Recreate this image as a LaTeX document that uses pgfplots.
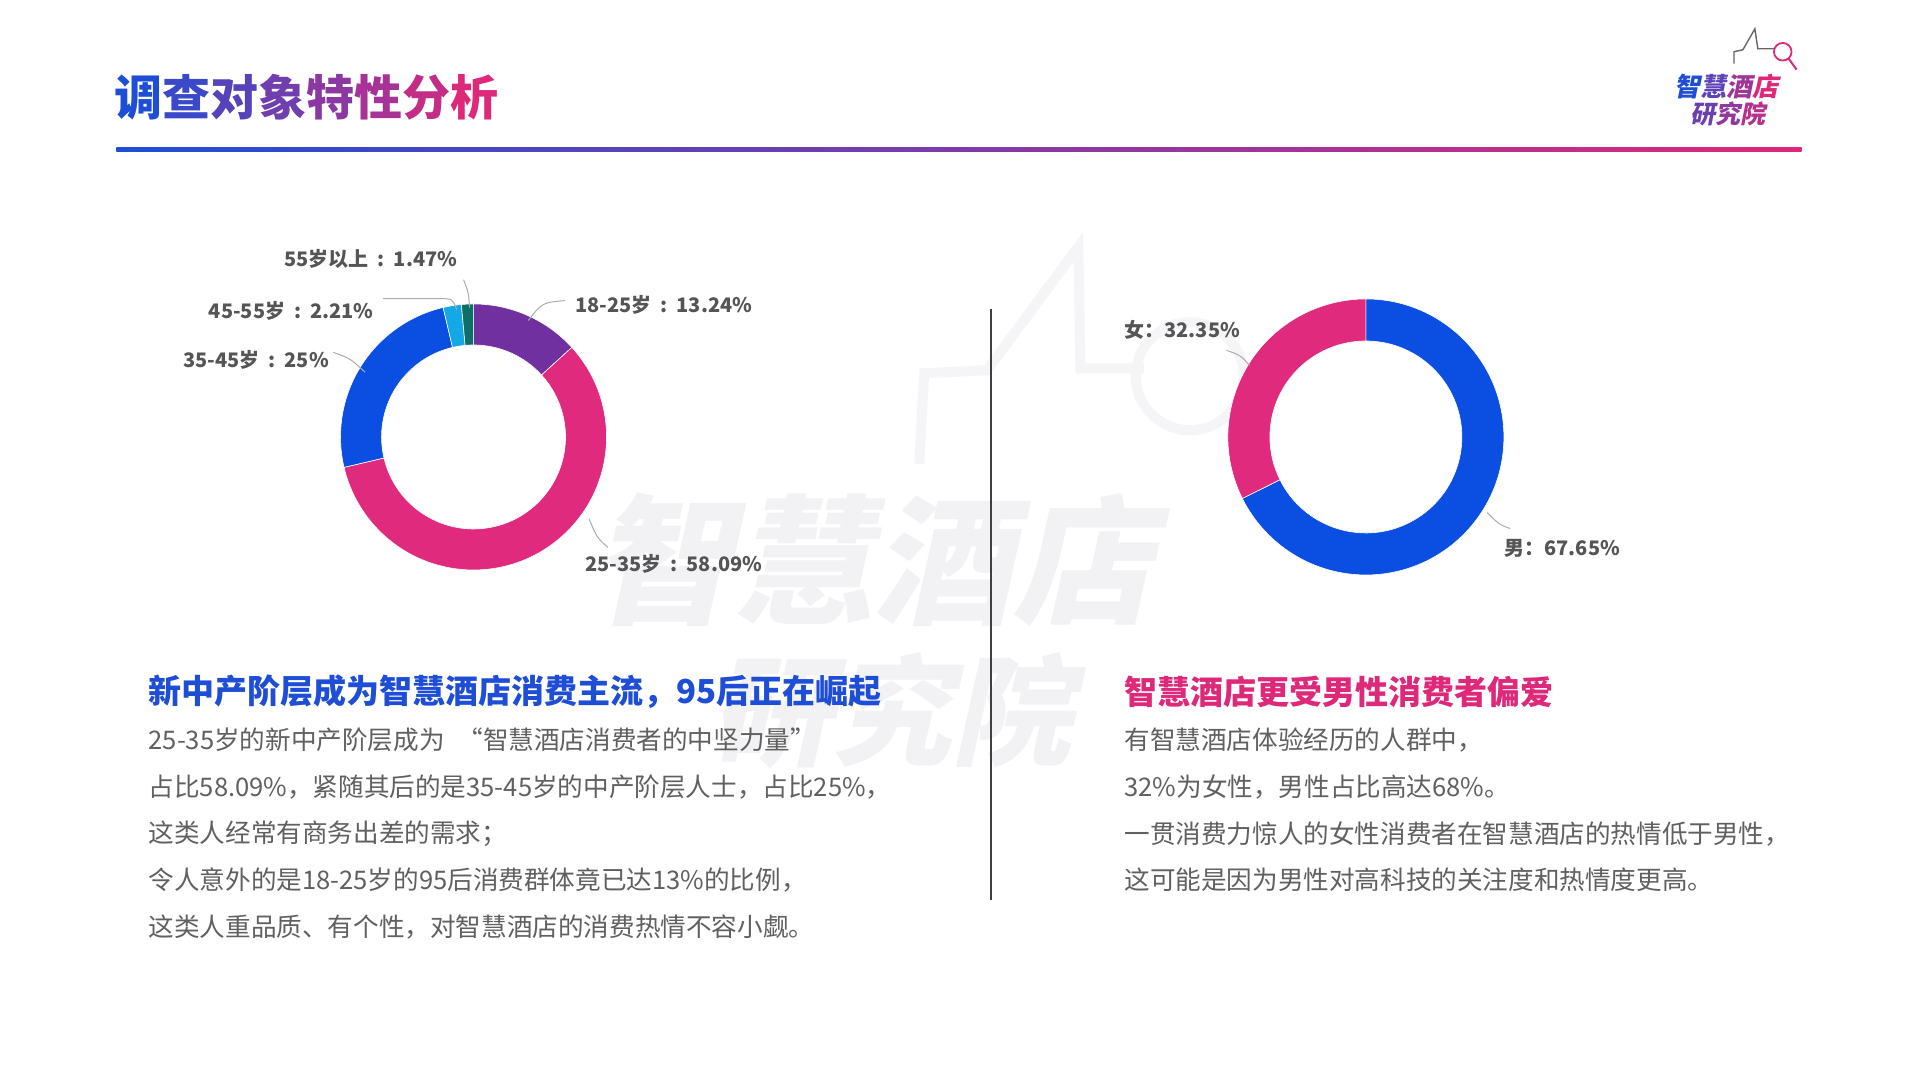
\documentclass[border=0pt]{standalone}
\usepackage{fontspec}
\setmainfont{Noto Sans CJK SC}
\usepackage{pgfplots}
\usepackage{pgfplotstable}
\pgfplotsset{compat=1.18}

\definecolor{tblue}{RGB}{30,78,214}
\definecolor{tpink}{RGB}{222,40,122}
\definecolor{agepurple}{RGB}{112,48,160}
\definecolor{agepink}{RGB}{224,42,125}
\definecolor{ageblue}{RGB}{10,78,226}
\definecolor{agecyan}{RGB}{20,168,230}
\definecolor{ageteal}{RGB}{14,110,104}
\definecolor{txtgray}{RGB}{96,96,96}
\definecolor{lblgray}{RGB}{85,85,85}
\definecolor{wm}{RGB}{242,242,244}
\definecolor{wmline}{RGB}{245,245,247}

\tikzset{
  leader/.style={draw=gray!65, line width=0.5pt},
  lbl/.style={inner sep=0pt, text=lblgray, font=\fontsize{10}{12}\selectfont\bfseries},
  body/.style={inner sep=0pt, anchor=west, text=txtgray, font=\fontsize{12.8}{15}\selectfont},
}
\newcommand\sep{\hspace{0.45em}:\hspace{0.45em}}

% shares in percent, clockwise from 12 o'clock
\pgfplotstableread{
share col
13.24 agepurple
58.09 agepink
25.00 ageblue
2.21  agecyan
1.47  ageteal
}\agedata
\pgfplotstableread{
share col
67.65 ageblue
32.35 agepink
}\genderdata

% #1 table, #2 #3 centre (px), #4 outer radius, #5 inner radius
\newcommand\donut[5]{%
  \pgfplotstablegetrowsof{#1}%
  \pgfmathtruncatemacro\nrows{\pgfplotsretval-1}%
  \pgfmathsetlengthmacro\rback{#5-#4}%
  \xdef\startang{90}%
  \foreach \i in {0,...,\nrows}{%
    \pgfplotstablegetelem{\i}{share}\of{#1}\let\share\pgfplotsretval
    \pgfplotstablegetelem{\i}{col}\of{#1}\let\segcol\pgfplotsretval
    \pgfmathsetmacro\endang{\startang-3.6*\share}%
    \fill[\segcol,draw=white,line width=0.3pt] (axis cs:#2,#3) ++(\startang:#4)
      arc[start angle=\startang,end angle=\endang,radius=#4]
      -- ++(\endang:\rback)
      arc[start angle=\endang,end angle=\startang,radius=#5] -- cycle;
    \xdef\startang{\endang}%
  }%
}

\begin{document}
\begin{tikzpicture}
  \path[use as bounding box] (0,0) rectangle (959.5pt,539.5pt);
  \fill[white] (0,0) rectangle (959.5pt,539.5pt);
  \begin{axis}[
      at={(0,0)}, anchor=south west,
      scale only axis,
      width=959.5pt, height=539.5pt,
      xmin=0, xmax=1929, ymin=0, ymax=1084,
      y dir=reverse,
      hide axis, clip=false,
    ]
    % watermark
    \node[text=wm, xslant=0.22, font=\fontsize{70}{70}\selectfont\bfseries] at (axis cs:889,562) {智慧酒店};
    \node[text=wm, xslant=0.22, font=\fontsize{60}{60}\selectfont\bfseries] at (axis cs:906,714) {研究院};
    \draw[wmline, line width=5pt, line join=miter] (axis cs:924,466) -- (axis cs:929,375) -- (axis cs:992,372)
      -- (axis cs:1084,248) -- (axis cs:1086,370) -- (axis cs:1150,370);
    \draw[wmline, line width=5pt] (axis cs:1196,378) circle[radius=27pt];

    % title and rule
    \node[anchor=west, inner sep=0pt, font=\fontsize{24}{24}\selectfont\bfseries] at (axis cs:115,98)
      {{\color{tblue}调}{\color{tblue!86!tpink}查}{\color{tblue!71!tpink}对}{\color{tblue!57!tpink}象}{\color{tblue!43!tpink}特}{\color{tblue!29!tpink}性}{\color{tblue!14!tpink}分}{\color{tpink}析}};
    \shade[left color=tblue, middle color=tblue!50!tpink, right color=tpink] (axis cs:117,148) rectangle (axis cs:1811,152);

    % logo
    \draw[gray!80!black, line width=0.7pt] (axis cs:1743,64) -- (axis cs:1743,52) -- (axis cs:1752,50)
      -- (axis cs:1764,29) -- (axis cs:1767,49) -- (axis cs:1783,49);
    \draw[tpink, line width=0.9pt] (axis cs:1792,52) circle[radius=4.4pt];
    \draw[tpink, line width=1pt] (axis cs:1798,59) -- (axis cs:1806,70);
    \node[xslant=0.2, inner sep=0pt, font=\fontsize{13}{13}\selectfont\bfseries] at (axis cs:1737,87)
      {{\color{tblue}智}{\color{tblue!67!tpink}慧}{\color{tblue!33!tpink}酒}{\color{tpink}店}};
    \node[xslant=0.2, inner sep=0pt, font=\fontsize{12.5}{13}\selectfont\bfseries] at (axis cs:1739,115)
      {{\color{tblue!60!tpink}研}{\color{tblue!40!tpink}究}{\color{tblue!20!tpink}院}};

    % donuts
    \pgfplotsextra{\donut{\agedata}{476}{439}{66.5pt}{46pt}}
    \pgfplotsextra{\donut{\genderdata}{1373}{439}{69pt}{48pt}}

    % age labels
    \draw[leader] (axis cs:472,309) .. controls (axis cs:471,294) .. (axis cs:466,281);
    \node[lbl, anchor=east] at (axis cs:460,260) {55岁以上\sep 1.47\%};
    \draw[leader] (axis cs:459,311) .. controls (axis cs:455,300) .. (axis cs:440,300) -- (axis cs:385,300);
    \node[lbl, anchor=east] at (axis cs:376,312) {45-55岁\sep 2.21\%};
    \draw[leader] (axis cs:367,374) .. controls (axis cs:352,360) .. (axis cs:335,354);
    \node[lbl, anchor=east] at (axis cs:331,362) {35-45岁\sep 25\%};
    \draw[leader] (axis cs:531,322) .. controls (axis cs:545,304) .. (axis cs:568,302);
    \node[lbl, anchor=west] at (axis cs:578,306) {18-25岁\sep 13.24\%};
    \draw[leader] (axis cs:592,521) .. controls (axis cs:600,540) .. (axis cs:611,550);
    \node[lbl, anchor=west] at (axis cs:588,567) {25-35岁\sep 58.09\%};

    % gender labels
    \draw[leader] (axis cs:1256,367) .. controls (axis cs:1247,357) .. (axis cs:1233,352);
    \node[lbl, anchor=west] at (axis cs:1130,331) {女：32.35\%};
    \draw[leader] (axis cs:1495,515) .. controls (axis cs:1507,527) .. (axis cs:1518,531);
    \node[lbl, anchor=west] at (axis cs:1512,551) {男：67.65\%};

    % separator
    \draw[black!75, line width=0.7pt] (axis cs:996,310) -- (axis cs:996,904);

    % left text
    \node[anchor=west, inner sep=0pt, text=tblue, font=\fontsize{16.5}{18}\selectfont\bfseries] at (axis cs:149,695)
      {新中产阶层成为智慧酒店消费主流，95后正在崛起};
    \node[body] at (axis cs:149,743) {25-35岁的新中产阶层成为\enspace “智慧酒店消费者的中坚力量”};
    \node[body] at (axis cs:149,791) {占比58.09\%，紧随其后的是35-45岁的中产阶层人士，占比25\%，};
    \node[body] at (axis cs:149,838) {这类人经常有商务出差的需求；};
    \node[body] at (axis cs:149,884) {令人意外的是18-25岁的95后消费群体竟已达13\%的比例，};
    \node[body] at (axis cs:149,931) {这类人重品质、有个性，对智慧酒店的消费热情不容小觑。};

    % right text
    \node[anchor=west, inner sep=0pt, text=tpink, font=\fontsize{16.5}{18}\selectfont\bfseries] at (axis cs:1130,695)
      {智慧酒店更受男性消费者偏爱};
    \node[body] at (axis cs:1130,743) {有智慧酒店体验经历的人群中，};
    \node[body] at (axis cs:1130,791) {32\%为女性，男性占比高达68\%。};
    \node[body] at (axis cs:1130,838) {一贯消费力惊人的女性消费者在智慧酒店的热情低于男性，};
    \node[body] at (axis cs:1130,884) {这可能是因为男性对高科技的关注度和热情度更高。};
  \end{axis}
\end{tikzpicture}
\end{document}
